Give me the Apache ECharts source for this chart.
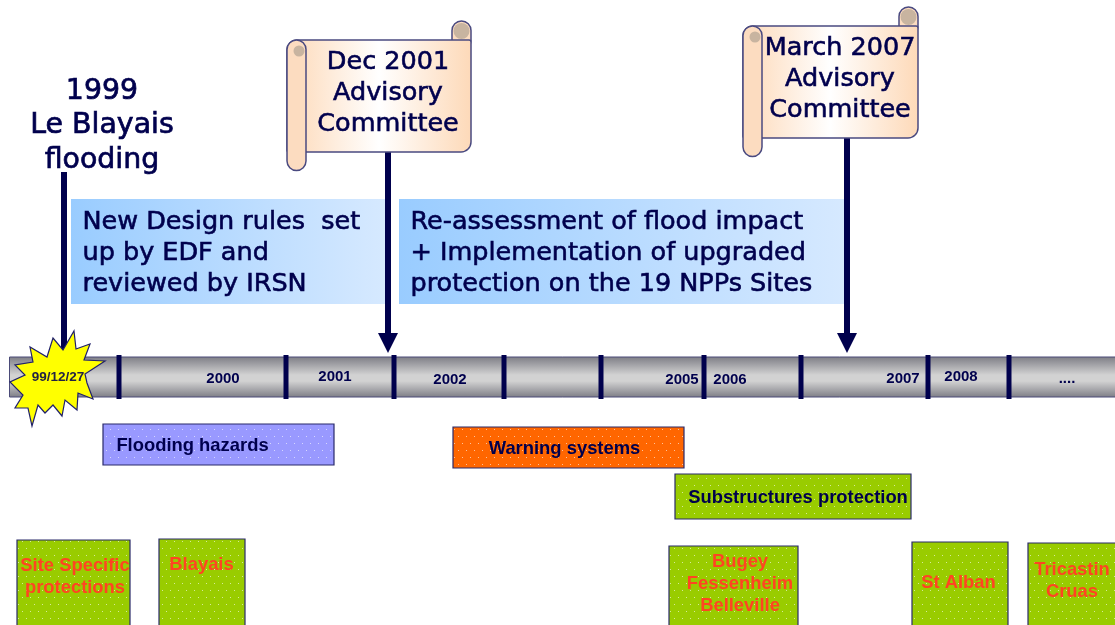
<!DOCTYPE html>
<html>
<head>
<meta charset="utf-8">
<style>
  html, body { margin: 0; padding: 0; background: #fff; }
  #chart { width: 1115px; height: 625px; }
</style>
<script src="https://cdn.jsdelivr.net/npm/echarts@6/dist/echarts.min.js"></script>
</head>
<body>
<div id="chart"></div>
<script>
// timeline ticks and year labels
var tickX = [119, 286, 394, 504, 601, 704, 801, 928, 1009];
var yearLabels = ["2000", "2001", "2002", "2005", "2006", "2007", "2008", "...."];
var yearX = [223, 335, 450, 682, 730, 903, 961, 1067];
var yearY = [379, 377, 380, 380, 380, 379, 377, 379];

// programme bars
var hazardNames = ["Flooding hazards", "Warning systems", "Substructures protection"];
var hazardStart = [103, 453, 675];
var hazardEnd = [334, 684, 911];
var hazardTop = [424, 427, 474];
var hazardBottom = [465, 468, 519];
var hazardColors = ["#9999ff", "#ff6600", "#99cc00"];
var hazardTextX = [192.5, 564.5, 798];

// site boxes
var siteNames = ["Site Specific\nprotections", "Blayais", "Bugey\nFessenheim\nBelleville", "St Alban", "Tricastin\nCruas"];
var siteStart = [17, 159, 669, 912, 1028];
var siteEnd = [130, 245, 798, 1008, 1120];
var siteTop = [540, 539, 546, 542, 543];
var siteTextX = [75, 201.5, 740, 958.5, 1072];
var siteTextY = [577, 565, 584, 583, 581];

// text panels
var panelText = ["New Design rules  set\nup by EDF and\nreviewed by IRSN", "Re-assessment of flood impact\n+ Implementation of upgraded\nprotection on the 19 NPPs Sites"];
var panelStart = [71, 399];
var panelEnd = [385, 845];

// scrolls and arrows
var scrollText = ["Dec 2001\nAdvisory\nCommittee", "March 2007\nAdvisory\nCommittee"];
var scrollLeft = [287, 743];
var scrollRight = [471, 918];
var scrollTop = [40, 26];
var scrollBottom = [152, 138];
var scrollTextX = [388, 840];
var scrollTextY = [93, 79];
var arrowX = [388, 847];
var arrowFrom = [152, 138];

var eventTitle = "1999\nLe Blayais\nflooding";
var starLabel = "99/12/27";
var starPoints = [[74, 331], [76, 349], [90, 344], [84, 360], [105, 361], [85, 374], [87, 383], [93, 399], [78, 393], [77, 410], [65, 400], [62, 416], [53, 405], [45, 413], [38, 405], [32, 426], [28, 408], [15, 408], [23, 395], [10, 382], [25, 375], [15, 365], [33, 362], [30, 347], [47, 357], [53, 338], [63, 350]];

var NAVY = "#00004d";
var TITLE_FONT = "'DejaVu Sans', sans-serif";
var BOLD_FONT = "bold 18.4px 'Liberation Sans', Arial, sans-serif";

// dotted fill used on the coloured boxes
var dots = document.createElement("canvas");
dots.width = 16;
dots.height = 14;
var dc = dots.getContext("2d");
dc.fillStyle = "rgba(255,255,255,0.6)";
[[2, 2], [10, 2], [6, 9], [14, 9]].forEach(function (d) {
  dc.fillRect(d[0], d[1], 1, 1);
});

function linear(x2, y2, stops) {
  return {
    type: "linear", x: 0, y: 0, x2: x2, y2: y2,
    colorStops: stops.map(function (s) {
      return { offset: s[0], color: s[1] };
    }),
  };
}

function rect(api, x0, y0, x1, y1, style, r) {
  var a = api.coord([x0, y0]);
  var b = api.coord([x1, y1]);
  return {
    type: "rect",
    shape: { x: a[0], y: a[1], width: b[0] - a[0], height: b[1] - a[1], r: r || 0 },
    style: style,
  };
}

function label(api, x, y, text, font, fill, lineHeight, align, weight) {
  var p = api.coord([x, y]);
  var style = {
    x: p[0], y: p[1], text: text, font: font, fill: fill,
    lineHeight: lineHeight, align: align || "center", verticalAlign: "middle",
  };
  if (weight) {
    style.stroke = fill;
    style.lineWidth = weight;
  }
  return { type: "text", style: style };
}

function custom(data, renderItem, z) {
  return { type: "custom", data: data, renderItem: renderItem, z: z, silent: true, animation: false, clip: false };
}

function dottedBox(api, x0, y0, x1, y1, color) {
  return {
    type: "group",
    children: [
      rect(api, x0, y0, x1, y1, { fill: color, stroke: "#2a2a6a", lineWidth: 1.2 }),
      rect(api, x0 + 1, y0 + 1, x1 - 1, y1 - 1, { fill: { image: dots, repeat: "repeat" } }),
    ],
  };
}

function renderScroll(params, api) {
  var i = params.dataIndex;
  var x0 = scrollLeft[i], x1 = scrollRight[i], y0 = scrollTop[i], y1 = scrollBottom[i];
  var edge = { stroke: "#4a4a80", lineWidth: 1.5 };
  var roll = "#fcdcc0";
  var hole = "#c8b4a0";
  return {
    type: "group",
    children: [
      rect(api, x1 - 19, y0 - 19, x1, y0 + 10, Object.assign({ fill: roll }, edge), 9.5),
      { type: "circle", shape: { cx: api.coord([x1 - 9.5, 0])[0], cy: api.coord([0, y0 - 9])[1], r: 8 }, style: { fill: hole } },
      rect(api, x0, y0, x1, y1, Object.assign({
        fill: linear(1, 0, [[0, "#fdd9b8"], [0.5, "#ffffff"], [1, "#fdd9b8"]]),
      }, edge), [10, 2, 10, 2]),
      rect(api, x0, y0, x0 + 19, y1 + 18.5, Object.assign({ fill: roll }, edge), 9.5),
      { type: "circle", shape: { cx: api.coord([x0 + 12, 0])[0], cy: api.coord([0, y0 + 11])[1], r: 5.5 }, style: { fill: hole } },
      label(api, scrollTextX[i], scrollTextY[i], scrollText[i], "25.5px " + TITLE_FONT, NAVY, 31, "center", 0.6),
    ],
  };
}

function renderArrow(params, api) {
  var i = params.dataIndex;
  var x = arrowX[i];
  var head = [[x - 10, 333], [x + 10, 333], [x, 353]].map(function (p) { return api.coord(p); });
  return {
    type: "group",
    children: [
      rect(api, x - 3, arrowFrom[i], x + 3, 334, { fill: NAVY }),
      { type: "polygon", shape: { points: head }, style: { fill: NAVY } },
    ],
  };
}

var option = {
  backgroundColor: "#ffffff",
  animation: false,
  tooltip: { show: false },
  grid: { left: 0, right: 0, top: 0, bottom: 0 },
  xAxis: { type: "value", min: 0, max: 1115, show: false },
  yAxis: { type: "value", min: 0, max: 625, inverse: true, show: false },
  series: [
    // blue panels
    custom(panelText, function (params, api) {
      var i = params.dataIndex;
      return {
        type: "group",
        children: [
          rect(api, panelStart[i], 199, panelEnd[i], 304, {
            fill: linear(1, 0, [[0, "#99ccff"], [1, "#d6e9ff"]]),
          }),
          label(api, panelStart[i] + 11.5, 253, panelText[i], "25.5px " + TITLE_FONT, NAVY, 31, "left", 0.6),
        ],
      };
    }, 1),
    // event title with its line
    custom([eventTitle], function (params, api) {
      return {
        type: "group",
        children: [
          rect(api, 61, 172, 67, 350, { fill: NAVY }),
          label(api, 102, 126, eventTitle, "28.4px " + TITLE_FONT, NAVY, 34.5, "center", 0.7),
        ],
      };
    }, 2),
    // timeline bar
    custom([0], function (params, api) {
      return rect(api, 9.5, 357, 1125, 397, {
        fill: linear(0, 1, [[0, "#7d7d85"], [0.45, "#d2d2d2"], [0.6, "#d2d2d2"], [1, "#7d7d85"]]),
        stroke: "#4a4a78",
        lineWidth: 1,
      });
    }, 3),
    custom(tickX, function (params, api) {
      var x = api.value(0);
      return rect(api, x - 2.5, 355, x + 2.5, 399, { fill: NAVY });
    }, 4),
    custom(yearLabels, function (params, api) {
      var i = params.dataIndex;
      return label(api, yearX[i], yearY[i], yearLabels[i], "bold 15px 'Liberation Sans', Arial, sans-serif", NAVY);
    }, 5),
    custom(arrowX, renderArrow, 6),
    custom(scrollText, renderScroll, 7),
    // explosion marker
    custom([starLabel], function (params, api) {
      return {
        type: "group",
        children: [
          {
            type: "polygon",
            shape: { points: starPoints.map(function (p) { return api.coord(p); }) },
            style: { fill: "#ffff00", stroke: "#20206a", lineWidth: 1.2 },
          },
          label(api, 58, 377, starLabel, "bold 13.5px 'Liberation Sans', Arial, sans-serif", "#222244"),
        ],
      };
    }, 8),
    // programme bars
    custom(hazardNames, function (params, api) {
      var i = params.dataIndex;
      return {
        type: "group",
        children: [
          dottedBox(api, hazardStart[i], hazardTop[i], hazardEnd[i], hazardBottom[i], hazardColors[i]),
          label(api, hazardTextX[i], (hazardTop[i] + hazardBottom[i]) / 2 + 1, hazardNames[i], BOLD_FONT, NAVY),
        ],
      };
    }, 9),
    // site boxes
    custom(siteNames, function (params, api) {
      var i = params.dataIndex;
      return {
        type: "group",
        children: [
          dottedBox(api, siteStart[i], siteTop[i], siteEnd[i], 632, "#99cc00"),
          label(api, siteTextX[i], siteTextY[i], siteNames[i], BOLD_FONT, "#ff4422", 22),
        ],
      };
    }, 9),
  ],
};

var myChart = echarts.init(document.getElementById("chart"), null, { renderer: "canvas" });
myChart.setOption(option);
</script>
</body>
</html>
